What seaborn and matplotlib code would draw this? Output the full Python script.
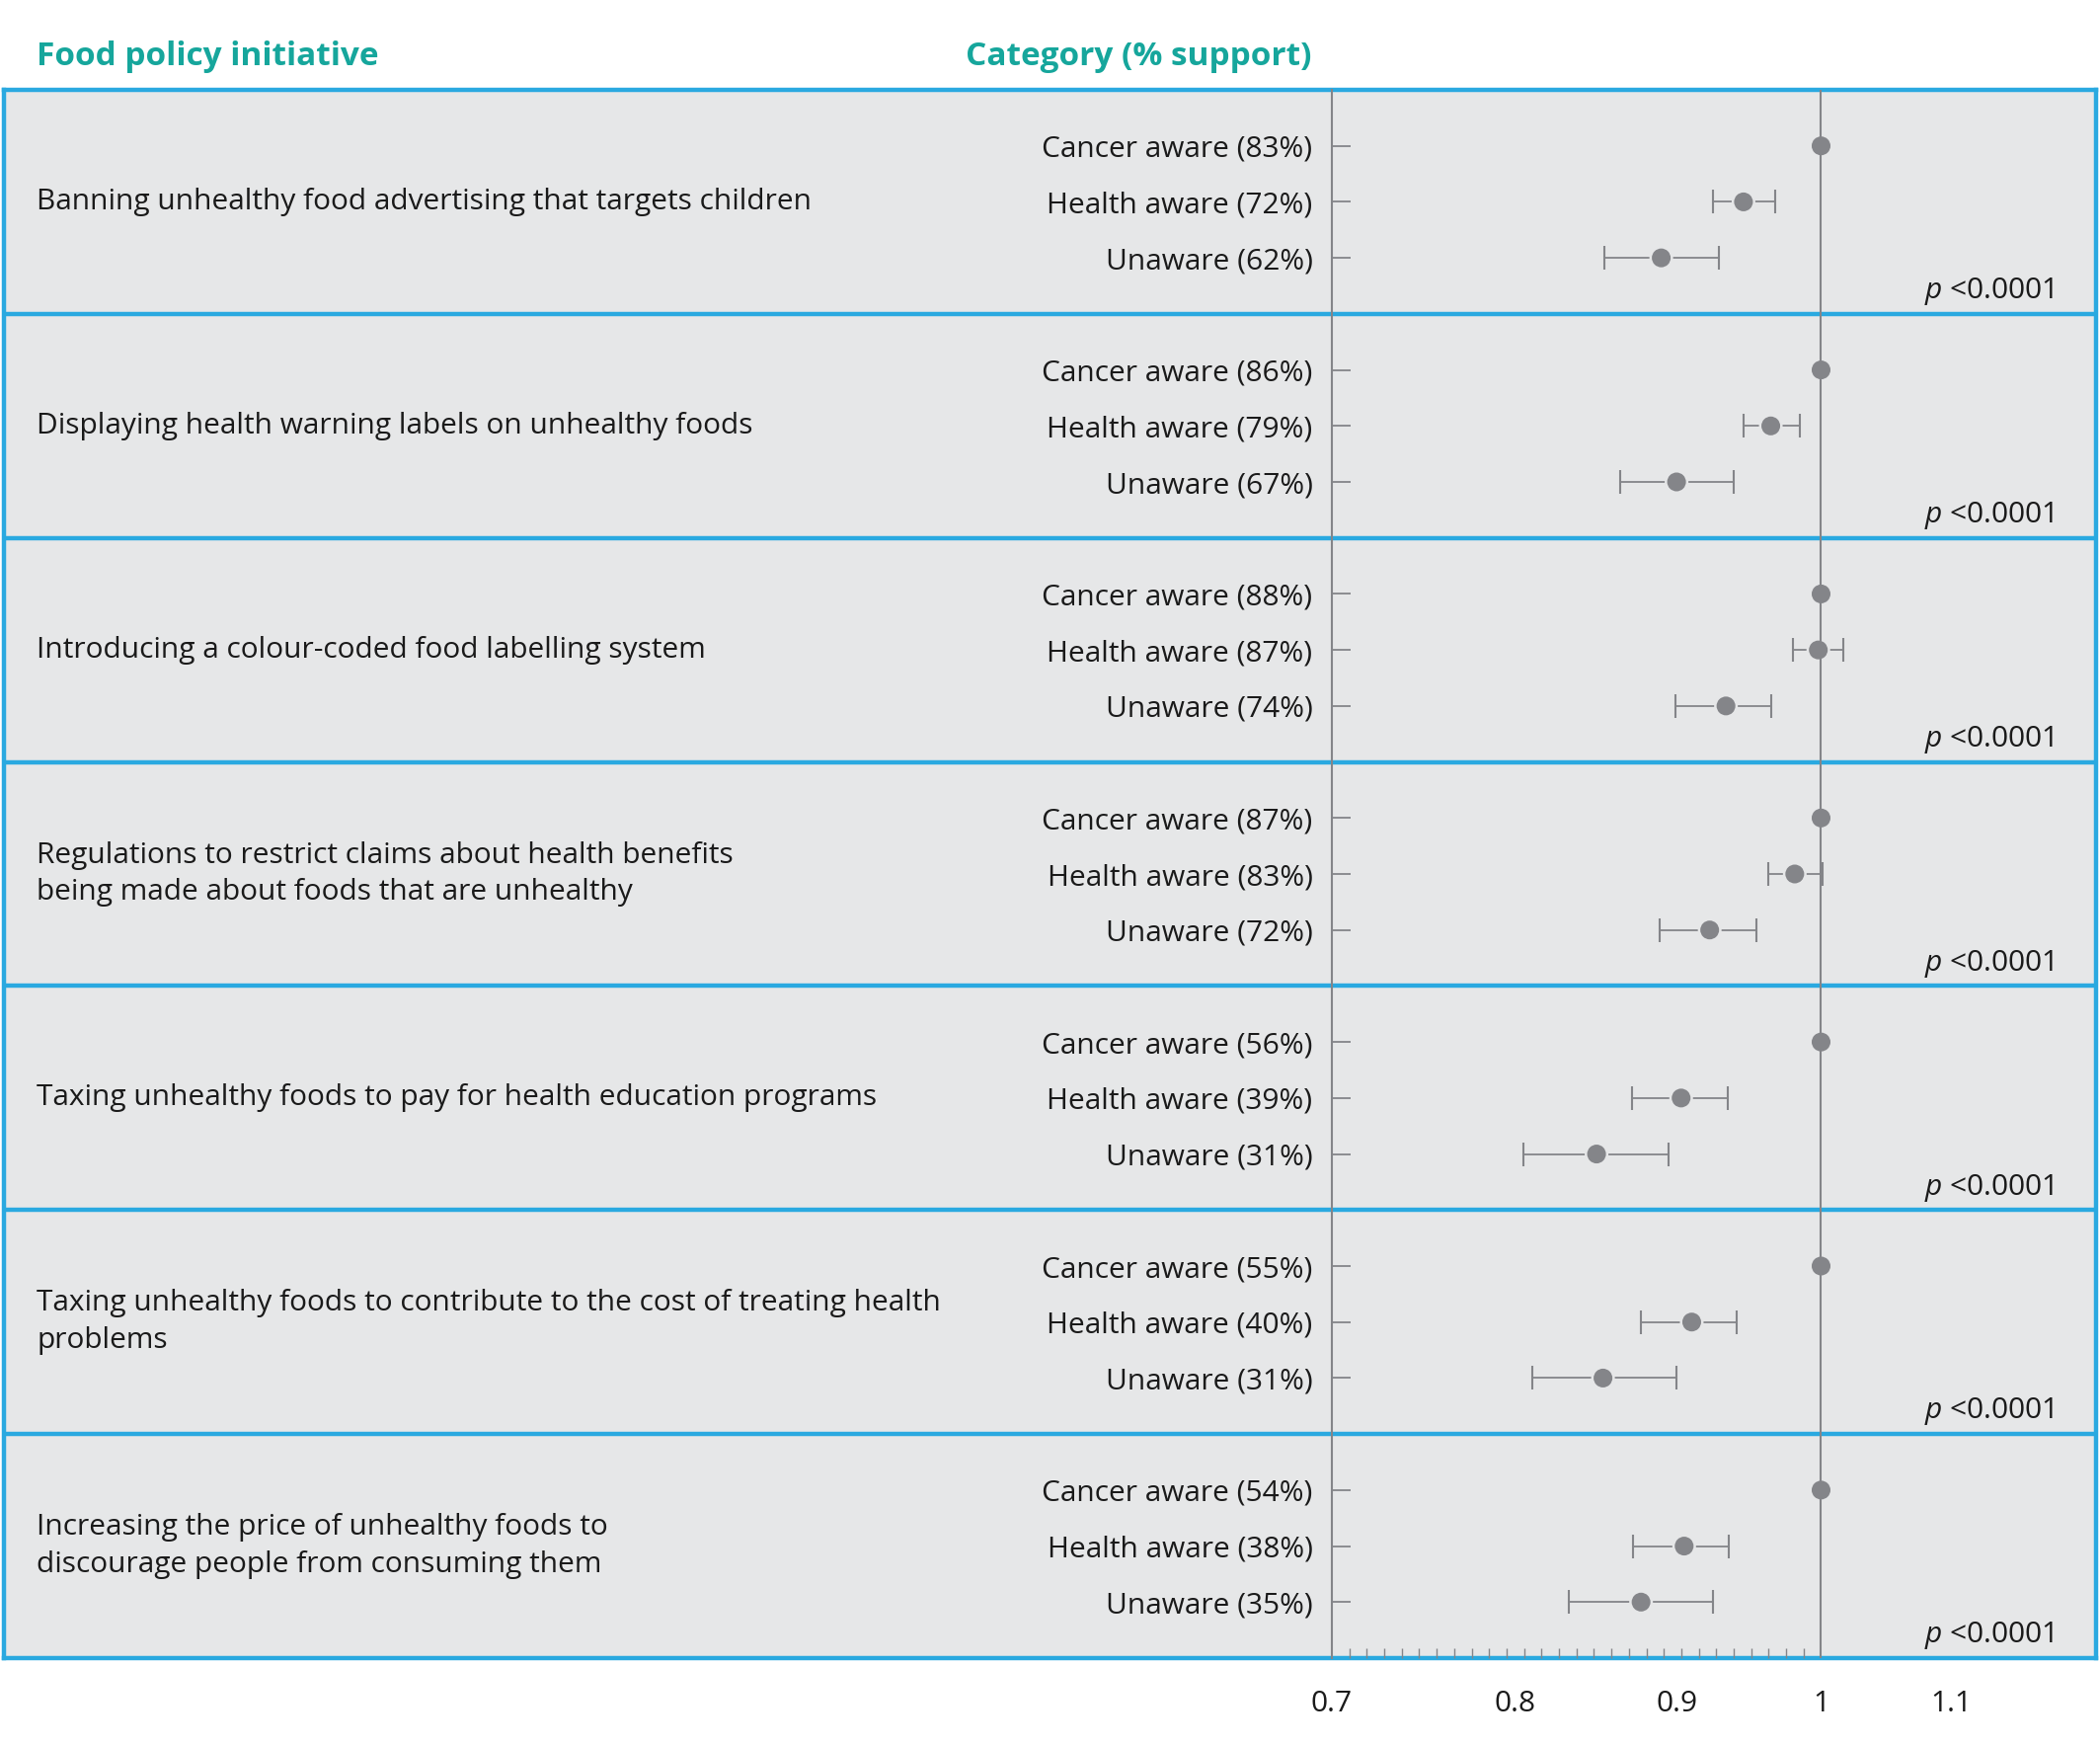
import numpy as np
import pandas as pd
import matplotlib
matplotlib.use("Agg")
import matplotlib.pyplot as plt
from matplotlib.ticker import FixedLocator, NullFormatter
import seaborn as sns

# data
policies = [
    "Banning unhealthy food advertising that targets children",
    "Displaying health warning labels on unhealthy foods",
    "Introducing a colour-coded food labelling system",
    "Regulations to restrict claims about health benefits\nbeing made about foods that are unhealthy",
    "Taxing unhealthy foods to pay for health education programs",
    "Taxing unhealthy foods to contribute to the cost of treating health\nproblems",
    "Increasing the price of unhealthy foods to\ndiscourage people from consuming them",
]
groups = ["Cancer aware", "Health aware", "Unaware"]

pct_cancer = [83, 86, 88, 87, 56, 55, 54]
pct_health = [72, 79, 87, 83, 39, 40, 38]
pct_unaware = [62, 67, 74, 72, 31, 31, 35]

# odds ratios vs cancer aware (reference = 1)
or_health = [0.945, 0.964, 0.998, 0.981, 0.903, 0.910, 0.905]
lo_health = [0.924, 0.945, 0.980, 0.962, 0.871, 0.877, 0.872]
hi_health = [0.967, 0.985, 1.016, 1.001, 0.934, 0.940, 0.935]
or_unaware = [0.890, 0.900, 0.933, 0.922, 0.849, 0.853, 0.877]
lo_unaware = [0.854, 0.864, 0.899, 0.889, 0.805, 0.810, 0.832]
hi_unaware = [0.928, 0.938, 0.964, 0.954, 0.895, 0.900, 0.924]

p_values = ["<0.0001"] * 7

x_ticks = [0.7, 0.8, 0.9, 1, 1.1]
x_ticklabels = ["0.7", "0.8", "0.9", "1", "1.1"]

rows = []
for i, pol in enumerate(policies):
    vals = [
        (pct_cancer[i], 1.0, np.nan, np.nan),
        (pct_health[i], or_health[i], lo_health[i], hi_health[i]),
        (pct_unaware[i], or_unaware[i], lo_unaware[i], hi_unaware[i]),
    ]
    for j, (g, (p, r, lo, hi)) in enumerate(zip(groups, vals)):
        rows.append({"policy": pol, "label": f"{g} ({p}%)", "ratio": r,
                     "lo": lo, "hi": hi, "ypos": 4 * i + 1 + j})
df = pd.DataFrame(rows)

sns.set_style("white")
plt.rcParams["font.family"] = ["Open Sans", "DejaVu Sans"]
plt.rcParams["mathtext.fontset"] = "custom"
plt.rcParams["mathtext.it"] = "Open Sans:italic"
plt.rcParams["mathtext.rm"] = "Open Sans"

BG = "#e6e7e8"
BLUE = "#2aa9e0"
GREY = "#848589"
TEAL = "#16a69c"
FS = 21.5
FS_HEAD = 24

W, H = 2127, 1767
fig = plt.figure(figsize=(W / 100, H / 100), dpi=100)

box_l, box_r, box_t, box_b = 4, 2123, 91, 1679
x07 = 1349

# background panels
bg = fig.add_axes([box_l / W, 1 - box_b / H, (box_r - box_l) / W, (box_b - box_t) / H])
bg.set_facecolor(BG)
bg.set_xlim(0, 1)
bg.set_ylim(28, 0)
bg.set_xticks([])
bg.set_yticks([])
for s in bg.spines.values():
    s.set_color(BLUE)
    s.set_linewidth(3.2)
for k in range(1, 7):
    bg.axhline(4 * k, color=BLUE, lw=3.2)
for i, pol in enumerate(policies):
    bg.text((37 - box_l) / (box_r - box_l), 4 * i + 2, pol, ha="left", va="center",
            fontsize=FS, linespacing=1.4, color="#1a1a1a")

# forest plot
ax = fig.add_axes([x07 / W, 1 - box_b / H, (box_r - x07) / W, (box_b - box_t) / H])
ax.patch.set_alpha(0)
ax.set_xscale("log")
ax.set_xlim(0.7, 1.222)
ax.set_ylim(28, 0)

ci = df.dropna(subset=["lo"])
ax.errorbar(ci["ratio"], ci["ypos"], xerr=[ci["ratio"] - ci["lo"], ci["hi"] - ci["ratio"]],
            fmt="none", ecolor=GREY, elinewidth=1.3, capsize=8.6, capthick=1.5, zorder=2)
sns.scatterplot(data=df, x="ratio", y="ypos", s=17.3 ** 2, color=BG, edgecolor="none",
                legend=False, ax=ax, zorder=3)
ax.axvline(1, color=GREY, lw=1.5, zorder=4)
sns.scatterplot(data=df, x="ratio", y="ypos", s=13.7 ** 2, color=GREY, edgecolor="none",
                legend=False, ax=ax, zorder=5)

ax.set_yticks(df["ypos"])
ax.set_yticklabels(df["label"], fontsize=FS, color="#1a1a1a")
ax.tick_params(axis="y", left=True, direction="in", length=14, width=1.3, color=GREY, pad=14)

ax.set_xticks(x_ticks)
ax.set_xticklabels(x_ticklabels, fontsize=FS, color="#1a1a1a")
ax.xaxis.set_minor_locator(FixedLocator(np.geomspace(0.7, 1, 29)[1:-1]))
ax.xaxis.set_minor_formatter(NullFormatter())
ax.tick_params(axis="x", which="major", bottom=True, length=0, pad=23)
ax.tick_params(axis="x", which="minor", bottom=True, top=False, direction="in",
               length=7, width=1, color=GREY)
ax.set_xlabel("")
ax.set_ylabel("")

for name in ["top", "right", "bottom"]:
    ax.spines[name].set_visible(False)
ax.spines["left"].set_color(GREY)
ax.spines["left"].set_linewidth(1.5)

for i, pv in enumerate(p_values):
    ax.text((2080 - x07) / (box_r - x07), 4 * i + 3.6, f"$p$ {pv}",
            transform=ax.get_yaxis_transform(), ha="right", va="center",
            fontsize=FS, color="#1a1a1a")

# header
fig.text(37 / W, 1 - 57 / H, "Food policy initiative", ha="left", va="center",
         fontsize=FS_HEAD, fontweight="bold", color=TEAL)
fig.text(1329 / W, 1 - 57 / H, "Category (% support)", ha="right", va="center",
         fontsize=FS_HEAD, fontweight="bold", color=TEAL)

fig.savefig("out.png", dpi=100, facecolor="white")
